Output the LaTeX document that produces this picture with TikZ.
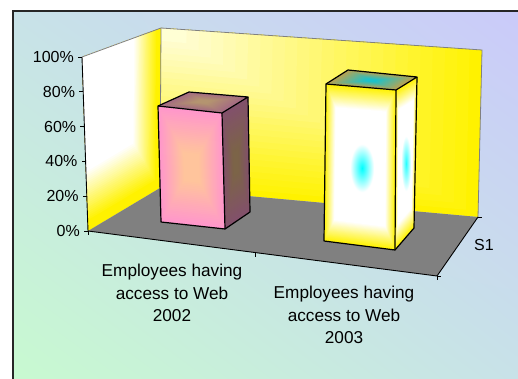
\documentclass[tikz,border=0pt]{standalone}
\usepackage{fontspec}
\setmainfont{Liberation Sans}
\usetikzlibrary{shadings,calc}
\definecolor{bgTL}{RGB}{200,226,232}
\definecolor{bgTR}{RGB}{202,202,250}
\definecolor{bgBL}{RGB}{200,250,208}
\definecolor{bgBR}{RGB}{200,226,232}
\definecolor{wallA}{RGB}{255,255,212}
\definecolor{floorgray}{RGB}{128,128,128}
\definecolor{pinkA}{RGB}{255,150,204}
\definecolor{pinkC}{RGB}{255,196,156}
\definecolor{mauveA}{RGB}{130,80,108}
\definecolor{mauveC}{RGB}{124,100,72}
\definecolor{topA}{RGB}{164,106,132}
\definecolor{topC}{RGB}{180,148,112}
\definecolor{oliveA}{RGB}{188,162,80}
\definecolor{cyanC}{RGB}{26,194,204}
% nested-quad gradient: corners #1-#4, centre #5, outer colour #6, inner colour #7,
% start fraction #8, end fraction #9
\newcommand\qgrad[9]{%
  \foreach \k in {0,...,24}{%
    \pgfmathsetmacro\ff{#8-\k*(#8-#9)/24}%
    \pgfmathtruncatemacro\pp{100-\k*100/24}%
    \fill[#6!\pp!#7] ($(#5)!\ff!(#1)$) -- ($(#5)!\ff!(#2)$) -- ($(#5)!\ff!(#3)$) -- ($(#5)!\ff!(#4)$) -- cycle;
  }}
\tikzset{
  wallline/.style={draw=floorgray, line width=0.8pt},
  axisline/.style={draw=black, line width=0.9pt},
  barline/.style={draw=black, line width=1.2pt, line join=round},
  lbl/.style={font=\fontsize{16}{22.5}\selectfont, inner sep=0pt},
  cat/.style={font=\fontsize{17.2}{22.5}\selectfont, inner sep=0pt, align=center},
}
\begin{document}
\begin{tikzpicture}[x=1pt,y=-1pt]
\useasboundingbox (0,0) rectangle (518,379);
\fill[white] (0,0) rectangle (518,379);
% background panel
\shade[upper left=bgTL, upper right=bgTR, lower left=bgBL, lower right=bgBR] (13,11) rectangle (524,385);
\draw[line width=1.6pt, black!85] (13,385) -- (13,11) -- (524,11);
% corners of the plot box
\coordinate (TFL) at (82,57);
\coordinate (TBL) at (161,28);
\coordinate (TBR) at (482,50);
\coordinate (FL) at (88,231);
\coordinate (BL) at (160,188);
\coordinate (BR) at (478,217);
\coordinate (FR) at (437,276);
% back wall
\qgrad{TBL}{TBR}{BR}{BL}{TBL}{yellow}{wallA}{1}{0.08}
% left wall
\fill[yellow] (TFL) -- (TBL) -- (BL) -- (FL) -- cycle;
\qgrad{TFL}{TBL}{BL}{FL}{TFL}{yellow}{white}{0.95}{0.66}
% floor
\fill[floorgray] (FL) -- (BL) -- (BR) -- (FR) -- cycle;
% wall edges
\draw[wallline] (TFL) -- (TBL) -- (TBR) -- (BR);
\draw[wallline] (TBL) -- (BL);
% axes
\draw[axisline] (TFL) -- (FL) -- (FR) -- (BR);
% value ticks and labels
\foreach \v/\n in {0/0\%,20/20\%,40/40\%,60/60\%,80/80\%,100/100\%}{
  \coordinate (t\v) at ($(FL)!\v/100!(TFL)$);
  \draw[axisline] (t\v) -- ++(-4,0);
  \node[lbl, anchor=east] (l\v) at ($(t\v)+(-8,0)$) {\n};
}
% category ticks
\coordinate (cm) at ($(FL)!0.48!(FR)$);
\draw[axisline] (FL) -- ++(0,4);
\draw[axisline] (cm) -- ++(0,4);
\draw[axisline] (FR) -- ++(0,4);
\draw[axisline] (BR) -- ++(4,0);
\draw[axisline] (FR) -- ++(4,0);
% bar 1
\coordinate (a1) at (158,106); \coordinate (a2) at (222,113);
\coordinate (a3) at (225,229); \coordinate (a4) at (161,222);
\coordinate (a5) at (189,92);  \coordinate (a6) at (248,97);
\coordinate (a7) at (250,212);
\coordinate (ac1) at ($(a1)!0.5!(a3)$);
\coordinate (ac2) at ($(a2)!0.5!(a7)$);
\coordinate (ac3) at ($(a1)!0.5!(a6)$);
\qgrad{a2}{a6}{a7}{a3}{ac2}{mauveA}{mauveC}{1}{0.2}
\qgrad{a1}{a5}{a6}{a2}{ac3}{topA}{topC}{1}{0.2}
\qgrad{a1}{a2}{a3}{a4}{ac1}{pinkA}{pinkC}{1}{0.25}
\draw[barline] (a1) -- (a2) -- (a3) -- (a4) -- cycle;
\draw[barline] (a1) -- (a5) -- (a6) -- (a2);
\draw[barline] (a6) -- (a7) -- (a3);
% bar 2
\coordinate (b1) at (326,84);  \coordinate (b2) at (396,90);
\coordinate (b3) at (395,250); \coordinate (b4) at (324,241);
\coordinate (b5) at (348,70);  \coordinate (b6) at (417,77);
\coordinate (b7) at (414,228);
\coordinate (bc1) at ($(b1)!0.5!(b3)$);
\coordinate (bc2) at ($(b2)!0.5!(b7)$);
\coordinate (bc3) at ($(b1)!0.5!(b6)$);
\qgrad{b2}{b6}{b7}{b3}{bc2}{yellow}{white}{1}{0.72}
\qgrad{b1}{b5}{b6}{b2}{bc3}{oliveA}{cyanC}{1}{0.12}
\qgrad{b1}{b2}{b3}{b4}{bc1}{yellow}{white}{1}{0.72}
\shade[inner color=cyan, outer color=white] (350,144) rectangle (374,192);
\shade[inner color=cyan!85!white, outer color=white] (401,136) rectangle (411,191);
\draw[barline] (b1) -- (b2) -- (b3) -- (b4) -- cycle;
\draw[barline] (b1) -- (b5) -- (b6) -- (b2);
\draw[barline] (b6) -- (b7) -- (b3);
% labels
\node[cat] (c1) at (172,293) {Employees having\\access to Web\\2002};
\node[cat] (c2) at (344,315) {Employees having\\access to Web\\2003};
\node[lbl, anchor=west] (s1) at (474,245) {S1};
\end{tikzpicture}
\end{document}
